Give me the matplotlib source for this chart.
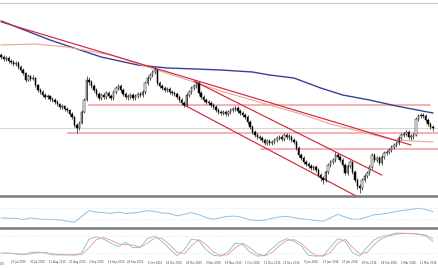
import matplotlib
matplotlib.use("Agg")
import matplotlib.pyplot as plt
import numpy as np

# daily candles, price x1000 (open = previous close)
first_open = 1145
closes = [
    1143, 1141, 1142, 1139, 1138, 1136, 1137, 1133, 1130, 1127,
    1120, 1124, 1121, 1122, 1115, 1110, 1108, 1105, 1103, 1104,
    1101, 1100, 1098, 1096, 1093, 1094, 1091, 1090, 1086, 1083,
    1075, 1072, 1077, 1088, 1100, 1120, 1118, 1114, 1110, 1106,
    1102, 1105, 1103, 1107, 1104, 1102, 1108, 1112, 1114, 1110,
    1106, 1103, 1103, 1105, 1102, 1104, 1106, 1105, 1108, 1117,
    1122, 1125, 1128, 1130, 1117, 1114, 1112, 1110, 1111, 1108,
    1107, 1106, 1103, 1100, 1097, 1095, 1105, 1108, 1112, 1114,
    1117, 1107, 1103, 1100, 1098, 1097, 1095, 1093, 1090, 1088,
    1087, 1088, 1086, 1088, 1090, 1091, 1092, 1089, 1087, 1085,
    1083, 1078, 1073, 1068, 1065, 1063, 1062, 1060, 1057, 1059,
    1057, 1058, 1060, 1062, 1063, 1061, 1065, 1063, 1063, 1060,
    1058, 1052, 1045, 1042, 1038, 1036, 1034, 1032, 1033, 1030,
    1025, 1022, 1020, 1028, 1035, 1038, 1040, 1045, 1043, 1040,
    1035, 1027, 1034, 1038, 1028, 1020, 1014, 1012, 1020, 1024,
    1027, 1033, 1045, 1040, 1042, 1037, 1043, 1047, 1048, 1050,
    1053, 1055, 1057, 1062, 1065, 1066, 1068, 1063, 1063, 1065,
    1081, 1084, 1085, 1084, 1080, 1076, 1073, 1072]
highs = [
    1147, 1145, 1144, 1144, 1141, 1140, 1139, 1139, 1135, 1132,
    1128, 1126, 1125, 1125, 1123, 1116, 1112, 1110, 1107, 1106,
    1105, 1103, 1102, 1100, 1097, 1096, 1095, 1093, 1091, 1088,
    1084, 1077, 1079, 1090, 1102, 1124, 1123, 1120, 1116, 1112,
    1108, 1107, 1107, 1109, 1109, 1106, 1110, 1114, 1116, 1116,
    1112, 1108, 1106, 1107, 1107, 1106, 1108, 1108, 1110, 1119,
    1124, 1127, 1130, 1133, 1131, 1119, 1116, 1114, 1113, 1113,
    1110, 1109, 1108, 1105, 1102, 1099, 1107, 1110, 1114, 1116,
    1119, 1118, 1109, 1105, 1102, 1100, 1099, 1097, 1095, 1092,
    1090, 1090, 1090, 1090, 1092, 1093, 1094, 1094, 1091, 1089,
    1087, 1085, 1080, 1075, 1070, 1067, 1065, 1064, 1062, 1061,
    1061, 1060, 1062, 1064, 1065, 1065, 1067, 1067, 1066, 1065,
    1062, 1060, 1054, 1047, 1044, 1040, 1038, 1036, 1035, 1035,
    1032, 1027, 1024, 1030, 1037, 1040, 1042, 1048, 1047, 1045,
    1042, 1037, 1036, 1040, 1039, 1030, 1022, 1016, 1022, 1026,
    1029, 1035, 1047, 1047, 1044, 1044, 1045, 1049, 1050, 1052,
    1055, 1057, 1059, 1064, 1067, 1068, 1070, 1070, 1066, 1067,
    1083, 1086, 1087, 1087, 1086, 1082, 1078, 1075]
lows = [
    1141, 1139, 1139, 1137, 1136, 1134, 1134, 1131, 1128, 1125,
    1118, 1119, 1119, 1120, 1113, 1108, 1106, 1103, 1101, 1101,
    1099, 1098, 1096, 1094, 1091, 1091, 1089, 1088, 1084, 1081,
    1073, 1067, 1070, 1076, 1087, 1099, 1115, 1112, 1108, 1104,
    1100, 1100, 1101, 1101, 1102, 1100, 1100, 1106, 1110, 1108,
    1104, 1101, 1100, 1101, 1100, 1100, 1102, 1103, 1103, 1106,
    1115, 1120, 1123, 1126, 1115, 1112, 1110, 1108, 1108, 1106,
    1105, 1104, 1101, 1098, 1095, 1093, 1094, 1103, 1106, 1110,
    1112, 1105, 1101, 1098, 1096, 1095, 1093, 1091, 1088, 1086,
    1085, 1085, 1084, 1084, 1086, 1088, 1089, 1087, 1085, 1083,
    1081, 1076, 1071, 1066, 1063, 1061, 1060, 1058, 1055, 1055,
    1055, 1055, 1056, 1058, 1060, 1059, 1059, 1061, 1060, 1058,
    1056, 1050, 1043, 1040, 1036, 1034, 1032, 1030, 1030, 1028,
    1023, 1019, 1016, 1018, 1026, 1033, 1036, 1038, 1041, 1038,
    1033, 1025, 1025, 1032, 1026, 1018, 1011, 1007, 1010, 1018,
    1022, 1025, 1031, 1038, 1038, 1035, 1035, 1041, 1045, 1046,
    1048, 1051, 1053, 1055, 1060, 1063, 1064, 1061, 1060, 1061,
    1064, 1079, 1082, 1082, 1078, 1074, 1071, 1069]

# moving averages (bar index, price x1000)
slow_ma_x = [0, 20, 41, 56, 68, 80, 90, 103, 110, 120, 131, 140, 151, 162, 177]
slow_ma_y = [1179, 1160, 1143, 1135, 1132, 1131, 1130, 1128, 1125, 1122, 1112, 1105, 1100, 1094, 1087]
fast_ma_x = [0, 14, 27, 45, 60, 74, 90, 107, 123, 135, 148, 161, 177]
fast_ma_y = [1155, 1156, 1153, 1145, 1133, 1122, 1109, 1097, 1086, 1076, 1068, 1060, 1058]

# trend lines: (x0, y0, x1, y1)
trend_lines = [(0, 1178, 168, 1055), (79, 1119, 156, 1025), (75, 1095, 145.5, 1004)]
# horizontal levels: (price, start, end)
levels = [(1095, 36, 176), (1067, 27.5, 179.5), (1051, 106.5, 179.5)]
last_price = 1072

# indicators, every 3rd bar
ind_x = list(range(0, 178, 3))
rsi = [35, 34, 33, 29, 35, 31, 30, 29, 28, 24, 20, 40, 60, 55, 53, 50, 55, 50, 52, 55,
       60, 57, 52, 50, 42, 47, 53, 46, 36, 30, 36, 40, 41, 36, 28, 25, 27, 33, 38, 40,
       36, 32, 29, 26, 23, 35, 47, 38, 30, 31, 38, 46, 48, 52, 57, 61, 64, 68, 64, 56]
stoch_k = [18, 18, 15, 12, 20, 22, 18, 12, 11, 12, 11, 20, 70, 78, 70, 55, 42, 58, 38, 40,
           72, 82, 60, 35, 8, 30, 70, 65, 30, 10, 7, 22, 55, 50, 22, 7, 10, 35, 58, 72,
           62, 45, 10, 7, 8, 40, 72, 62, 20, 7, 40, 68, 80, 85, 92, 92, 90, 88, 82, 62]
stoch_d = [17, 18, 17, 14, 15, 20, 20, 16, 13, 12, 11, 13, 38, 68, 76, 66, 52, 50, 48, 40,
           55, 75, 72, 50, 22, 15, 45, 68, 50, 22, 10, 12, 38, 55, 38, 15, 8, 20, 45, 65,
           68, 55, 28, 10, 7, 20, 55, 70, 40, 15, 20, 50, 72, 82, 88, 91, 91, 89, 85, 72]

tick_pos = list(range(7, 178, 8))
tick_labels = ['20 Jul 2015', '30 Jul 2015', '11 Aug 2015', '21 Aug 2015', '2 Sep 2015',
               '14 Sep 2015', '24 Sep 2015', '6 Oct 2015', '16 Oct 2015', '28 Oct 2015',
               '9 Nov 2015', '19 Nov 2015', '1 Dec 2015', '11 Dec 2015', '23 Dec 2015',
               '5 Jan 2016', '15 Jan 2016', '27 Jan 2016', '8 Feb 2016', '18 Feb 2016',
               '1 Mar 2016', '11 Mar 2016']

W, H = 439, 268
fig = plt.figure(figsize=(W / 100, H / 100), dpi=100)
fig.patch.set_facecolor('white')


def panel(top, bottom):
    return fig.add_axes([0, 1 - bottom / H, 1, (bottom - top) / H])


ax = panel(3, 196)
ax_rsi = panel(199, 228)
ax_st = panel(231, 258)
xlim = (-0.5, 179.5)

# candles
c = np.array(closes) / 1000
o = np.array([first_open] + closes[:-1]) / 1000
hi = np.array(highs) / 1000
lo = np.array(lows) / 1000
x = np.arange(len(c))
up = c >= o
body_bot = np.minimum(o, c)
body_h = np.maximum(np.abs(c - o), 0.0007)
ax.vlines(x, lo, hi, color='black', lw=0.45, zorder=3)
ax.bar(x[up], body_h[up], bottom=body_bot[up], width=0.6, color='white',
       edgecolor='black', lw=0.35, zorder=4)
ax.bar(x[~up], body_h[~up], bottom=body_bot[~up], width=0.6, color='black',
       edgecolor='black', lw=0.35, zorder=4)

ax.plot(slow_ma_x, np.array(slow_ma_y) / 1000, color='#3b3f98', lw=1.0, zorder=2)
ax.plot(fast_ma_x, np.array(fast_ma_y) / 1000, color='#eba597', lw=0.8, zorder=2)
for x0, y0, x1, y1 in trend_lines:
    ax.plot([x0, x1], [y0 / 1000, y1 / 1000], color='#d3283b', lw=0.85, zorder=2)
for lvl, s, e in levels:
    ax.plot([s, e], [lvl / 1000, lvl / 1000], color='#f39a9c', lw=1.1, zorder=1)
ax.axhline(last_price / 1000, color='#cfcfcf', lw=0.6, zorder=0)

ax.set_xlim(*xlim)
ax.set_ylim(1.004, 1.197)

# RSI
ax_rsi.plot(ind_x, rsi, color='#92bfe0', lw=0.7)
for g in (70, 30):
    ax_rsi.axhline(g, color='#dddddd', lw=0.5, ls=':')
ax_rsi.set_xlim(*xlim)
ax_rsi.set_ylim(0, 100)

# stochastic
ax_st.plot(ind_x, stoch_k, color='#86bccf', lw=0.6)
ax_st.plot(ind_x, stoch_d, color='#e59a9a', lw=0.6)
for g in (80, 20):
    ax_st.axhline(g, color='#dddddd', lw=0.5, ls=':')
ax_st.set_xlim(*xlim)
ax_st.set_ylim(0, 100)

for a in (ax, ax_rsi, ax_st):
    a.set_facecolor('white')
    a.set_yticks([])
    for s in ('left', 'right', 'top', 'bottom'):
        a.spines[s].set_visible(False)
    a.tick_params(length=0)

ax.set_xticks([])
ax_rsi.set_xticks([])
ax.spines['top'].set_visible(True)
ax.spines['top'].set_color('#c8c8c8')
ax.spines['top'].set_linewidth(0.8)
for a in (ax, ax_rsi):
    a.spines['bottom'].set_visible(True)
    a.spines['bottom'].set_color('#7a7a7a')
    a.spines['bottom'].set_linewidth(1.8)

ax_st.set_xticks(tick_pos)
ax_st.set_xticklabels(tick_labels, fontsize=1.9, color='#444444')
ax_st.tick_params(axis='x', pad=1.8)
ax_st.text(-1.5, -0.13, '8 Jul 2015', transform=ax_st.get_xaxis_transform(),
           fontsize=1.9, color='#444444', ha='center', va='top')

fig.savefig('out.png', dpi=100, facecolor='white')
